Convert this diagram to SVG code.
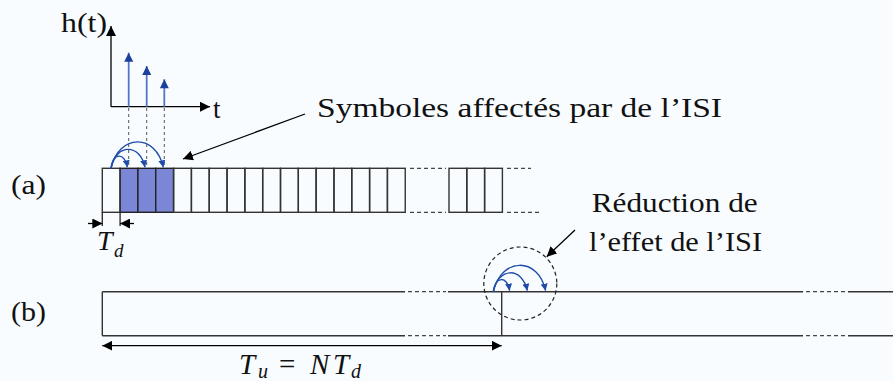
<svg xmlns="http://www.w3.org/2000/svg" width="893" height="381" viewBox="0 0 893 381">
<style>
.bg{fill:#f8fcff}
.cell{fill:none;stroke:#333;stroke-width:1.4}
.shade{fill:#7b87d6;stroke:#222;stroke-width:1.4}
.ln{fill:none;stroke:#333;stroke-width:1.4}
.dash{fill:none;stroke:#444;stroke-width:1.3;stroke-dasharray:4 3}
.guide{fill:none;stroke:#555;stroke-width:1;stroke-dasharray:3 3}
.arr{fill:none;stroke:#000;stroke-width:1.3}
.isi{fill:none;stroke:#1f4ca8;stroke-width:1.4}
.stem{fill:none;stroke:#5576c4;stroke-width:1.8}
text{font-family:"Liberation Serif","DejaVu Serif","Noto Serif",serif;fill:#111}
.it{font-style:italic}
</style>
<defs>
<marker id="ah" viewBox="0 0 10 10" refX="10" refY="5" markerWidth="10" markerHeight="10" markerUnits="userSpaceOnUse" orient="auto">
<path d="M0,0 L10,5 L0,10 z" fill="#000"/>
</marker>
<marker id="ahs" viewBox="0 0 10 10" refX="10" refY="5" markerWidth="10" markerHeight="10" markerUnits="userSpaceOnUse" orient="auto-start-reverse">
<path d="M0,0 L10,5 L0,10 z" fill="#000"/>
</marker>
<marker id="bh" viewBox="0 0 10 10" refX="10" refY="5" markerWidth="7" markerHeight="7" markerUnits="userSpaceOnUse" orient="auto">
<path d="M0,0 L10,5 L0,10 z" fill="#1f4ca8"/>
</marker>
<marker id="ih" viewBox="0 0 10 10" refX="10" refY="5" markerWidth="10" markerHeight="9" markerUnits="userSpaceOnUse" orient="auto">
<path d="M0,0 L10,5 L0,10 z" fill="#1a3f9c"/>
</marker>
<g id="isiArcs">
<path class="isi" d="M0,0 C2,-16 14,-16 16.3,-1" marker-end="url(#bh)"/>
<path class="isi" d="M0,0 C5,-25 29,-25 34,-1" marker-end="url(#bh)"/>
<path class="isi" d="M0,0 C8,-35 45,-35 52.3,-1" marker-end="url(#bh)"/>
</g>
</defs>
<rect class="bg" x="0" y="0" width="893" height="381"/>

<g id="impulse-response">
<line class="arr" x1="111" y1="106.7" x2="111" y2="26" marker-end="url(#ah)"/>
<line class="arr" x1="111" y1="106.7" x2="210" y2="106.7" marker-end="url(#ah)"/>
<line class="stem" x1="128.7" y1="106.7" x2="128.7" y2="52.7" marker-end="url(#ih)"/>
<line class="stem" x1="146.7" y1="106.7" x2="146.7" y2="66" marker-end="url(#ih)"/>
<line class="stem" x1="164.3" y1="106.7" x2="164.3" y2="79.3" marker-end="url(#ih)"/>
<text x="61" y="31.5" font-size="27" textLength="46" lengthAdjust="spacingAndGlyphs">h(t)</text>
<text x="213" y="118" font-size="27">t</text>
</g>

<g id="guides">
<line class="guide" x1="128.7" y1="108" x2="128.7" y2="167"/>
<line class="guide" x1="146.7" y1="108" x2="146.7" y2="167"/>
<line class="guide" x1="164.3" y1="108" x2="164.3" y2="167"/>
</g>

<g id="row-a">
<text x="11" y="193.5" font-size="27" textLength="35" lengthAdjust="spacingAndGlyphs">(a)</text>
<rect class="cell" x="102.3" y="168.3" width="17.82" height="44"/>
<rect class="shade" x="120.12" y="168.3" width="17.82" height="44"/>
<rect class="shade" x="137.94" y="168.3" width="17.82" height="44"/>
<rect class="shade" x="155.76" y="168.3" width="17.82" height="44"/>
<rect class="cell" x="173.58" y="168.3" width="17.82" height="44"/>
<rect class="cell" x="191.4" y="168.3" width="17.82" height="44"/>
<rect class="cell" x="209.22" y="168.3" width="17.82" height="44"/>
<rect class="cell" x="227.04" y="168.3" width="17.82" height="44"/>
<rect class="cell" x="244.86" y="168.3" width="17.82" height="44"/>
<rect class="cell" x="262.68" y="168.3" width="17.82" height="44"/>
<rect class="cell" x="280.5" y="168.3" width="17.82" height="44"/>
<rect class="cell" x="298.32" y="168.3" width="17.82" height="44"/>
<rect class="cell" x="316.14" y="168.3" width="17.82" height="44"/>
<rect class="cell" x="333.96" y="168.3" width="17.82" height="44"/>
<rect class="cell" x="351.78" y="168.3" width="17.82" height="44"/>
<rect class="cell" x="369.6" y="168.3" width="17.82" height="44"/>
<rect class="cell" x="387.42" y="168.3" width="17.82" height="44"/>
<line class="dash" x1="410" y1="168.3" x2="446" y2="168.3"/>
<line class="dash" x1="410" y1="212.3" x2="446" y2="212.3"/>
<rect class="cell" x="449" y="168.3" width="17.8" height="44"/>
<rect class="cell" x="466.8" y="168.3" width="17.8" height="44"/>
<rect class="cell" x="484.6" y="168.3" width="17.8" height="44"/>
<line class="dash" x1="507" y1="168.3" x2="531" y2="168.3"/>
<line class="dash" x1="507" y1="212.3" x2="540" y2="212.3"/>
<use href="#isiArcs" x="111" y="168.3"/>
</g>

<g id="td-marker">
<line class="ln" x1="102.3" y1="212.3" x2="102.3" y2="226"/>
<line class="ln" x1="120.1" y1="212.3" x2="120.1" y2="226"/>
<line class="arr" x1="88" y1="223.5" x2="102.3" y2="223.5" marker-end="url(#ah)"/>
<line class="arr" x1="134" y1="223.5" x2="120.1" y2="223.5" marker-end="url(#ah)"/>
<text class="it" x="97" y="250" font-size="28">T</text>
<text class="it" x="114" y="256.5" font-size="19">d</text>
</g>

<g id="label-symboles">
<text x="317" y="116.5" font-size="28" textLength="405" lengthAdjust="spacingAndGlyphs">Symboles affectés par de l’ISI</text>
</g>

<g id="label-reduction">
<text x="591.7" y="211.7" font-size="28" textLength="166" lengthAdjust="spacingAndGlyphs">Réduction de</text>
<text x="589" y="250.7" font-size="28" textLength="173" lengthAdjust="spacingAndGlyphs">l’effet de l’ISI</text>
</g>

<g id="row-b">
<text x="11" y="320.5" font-size="27" textLength="35" lengthAdjust="spacingAndGlyphs">(b)</text>
<line class="ln" x1="102.3" y1="291.7" x2="102.3" y2="335.7"/>
<line class="ln" x1="102.3" y1="291.7" x2="405" y2="291.7"/>
<line class="ln" x1="102.3" y1="335.7" x2="405" y2="335.7"/>
<line class="dash" x1="408" y1="291.7" x2="446" y2="291.7"/>
<line class="dash" x1="408" y1="335.7" x2="446" y2="335.7"/>
<line class="ln" x1="448" y1="291.7" x2="803" y2="291.7"/>
<line class="ln" x1="448" y1="335.7" x2="803" y2="335.7"/>
<line class="dash" x1="806" y1="291.7" x2="846" y2="291.7"/>
<line class="dash" x1="806" y1="335.7" x2="846" y2="335.7"/>
<line class="ln" x1="848" y1="291.7" x2="893" y2="291.7"/>
<line class="ln" x1="848" y1="335.7" x2="893" y2="335.7"/>
<line class="ln" x1="501.7" y1="291.7" x2="501.7" y2="335.7"/>
<circle cx="520.3" cy="283.5" r="36.5" fill="none" stroke="#222" stroke-width="1.2" stroke-dasharray="4 3"/>
<use href="#isiArcs" x="493.3" y="291.7"/>
</g>

<g id="tu-marker">
<line class="arr" x1="102.3" y1="345.7" x2="501.7" y2="345.7" marker-start="url(#ahs)" marker-end="url(#ahs)"/>
<text class="it" x="239" y="374" font-size="29">T</text>
<text class="it" x="258" y="378" font-size="20">u</text>
<text x="279" y="374" font-size="29">=</text>
<text class="it" x="310" y="374" font-size="29">N</text>
<text class="it" x="333" y="374" font-size="29">T</text>
<text class="it" x="351" y="378" font-size="20">d</text>
</g>

<g id="connectors">
<line class="arr" x1="305" y1="114" x2="183" y2="159" marker-end="url(#ah)"/>
<line class="arr" x1="575" y1="230" x2="546.7" y2="256.7" marker-end="url(#ah)"/>
</g>
</svg>
